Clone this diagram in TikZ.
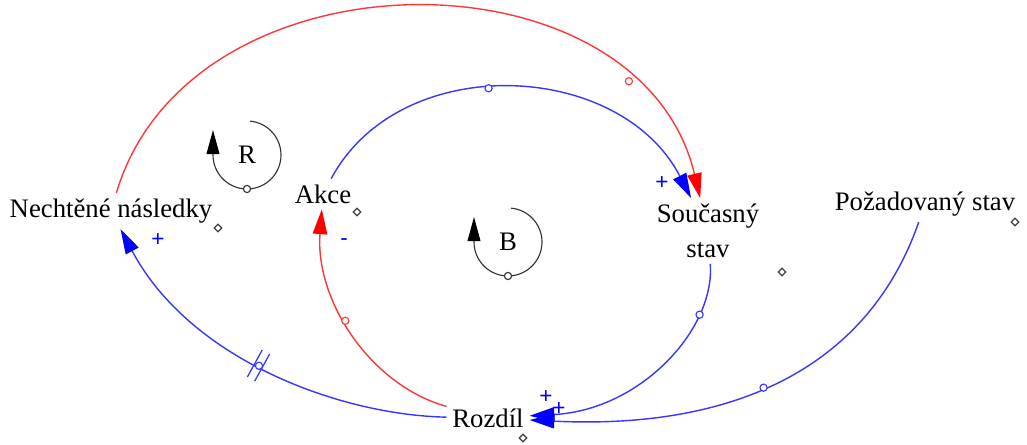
\documentclass[tikz,border=0pt]{standalone}
\usepackage{fontspec}
\setmainfont{Liberation Serif}
\newfontfamily\signfont{Liberation Sans}
\usetikzlibrary{arrows.meta,shapes.geometric,decorations.markings}
\definecolor{linkred}{RGB}{255,55,55}
\definecolor{linkblue}{RGB}{55,55,255}
\begin{document}
\begin{tikzpicture}[x=0.025cm,y=-0.025cm,
    var/.style={font=\fontsize{19}{25}\selectfont,inner sep=4pt,align=center},
    varmark/.style={diamond,draw=black!75,fill=white,line width=0.8pt,inner sep=0pt,minimum size=0.2cm},
    ring/.style={circle,draw,fill=white,inner sep=0pt,minimum size=0.18cm,line width=0.8pt},
    sign/.style={font=\signfont\fontsize{16}{16}\selectfont,text=blue,inner sep=0pt},
    redlink/.style={draw=linkred,line width=1pt,-{Triangle[length=0.62cm,width=0.36cm,color=red]}},
    bluelink/.style={draw=linkblue,line width=1pt,-{Triangle[length=0.62cm,width=0.36cm,color=blue]}},
    looparrow/.style={draw=black!80,line width=0.8pt,-{Triangle[length=0.6cm,width=0.32cm,color=black]}},
    delay/.style={postaction={decorate},decoration={markings,
        mark=at position 0.5 with {\draw[-,linkblue,line width=0.9pt]
          (-3pt,-11pt) -- (-3pt,11pt) (3pt,-11pt) -- (3pt,11pt);}}}]
  \useasboundingbox (0,0) rectangle (1027,445);

  % variables
  \node[var] (nech) at (111,211) {Nechtěné následky};
  \node[var] (akce) at (323,194) {Akce};
  \node[var] (soucasny) at (708,231) {Současný\\stav};
  \node[var] (pozad) at (925,204) {Požadovaný stav};
  \node[var] (rozdil) at (488,418) {Rozdíl};

  \node[varmark] (nechmark) at (218,228) {};
  \node[varmark] (akcemark) at (357,212) {};
  \node[varmark] (soucasnymark) at (782,272) {};
  \node[varmark] (pozadmark) at (1015,222) {};
  \node[varmark] (rozdilmark) at (523,438) {};

  % loops
  \foreach \cx/\cy/\lbl in {247/155/R, 508/242/B} {
    \node[var] (loop\lbl) at (\cx,\cy) {\lbl};
    \draw[looparrow] ([shift={(-85:34)}]loop\lbl.center) arc[start angle=-85,end angle=180,radius=34] -- ++(0,-25);
    \node[ring,draw=black!80] (loopring\lbl) at ([shift={(90:34)}]loop\lbl.center) {};
  }

  % links
  \draw[redlink] (nech) .. controls (190,-55) and (640,-55) .. (soucasny)
    node[ring,draw=linkred,pos=0.81] (ring1) {};
  \draw[bluelink] (akce) .. controls (400,50) and (620,60) .. (soucasny)
    node[ring,draw=linkblue,pos=0.45] (ring2) {};
  \draw[bluelink] (soucasny) .. controls (715,330) and (640,410) .. (rozdil)
    node[ring,draw=linkblue,pos=0.25] (ring3) {};
  \draw[bluelink] (pozad) .. controls (869,365) and (738,430) .. (rozdil)
    node[ring,draw=linkblue,pos=0.55] (ring4) {};
  \draw[redlink] (rozdil) .. controls (370,385) and (315,300) .. (akce)
    node[ring,draw=linkred,pos=0.56] (ring5) {};
  \draw[bluelink,delay] (rozdil) .. controls (340,415) and (190,360) .. (nech)
    node[ring,draw=linkblue,pos=0.53] (ring6) {};

  % polarity
  \node[sign] (sign1) at (158,240) {+};
  \node[sign] (sign2) at (662,183) {+};
  \node[sign] (sign3) at (546,397) {+};
  \node[sign] (sign4) at (559,409) {+};
  \node[sign] (sign5) at (344,242) {-};
\end{tikzpicture}
\end{document}
